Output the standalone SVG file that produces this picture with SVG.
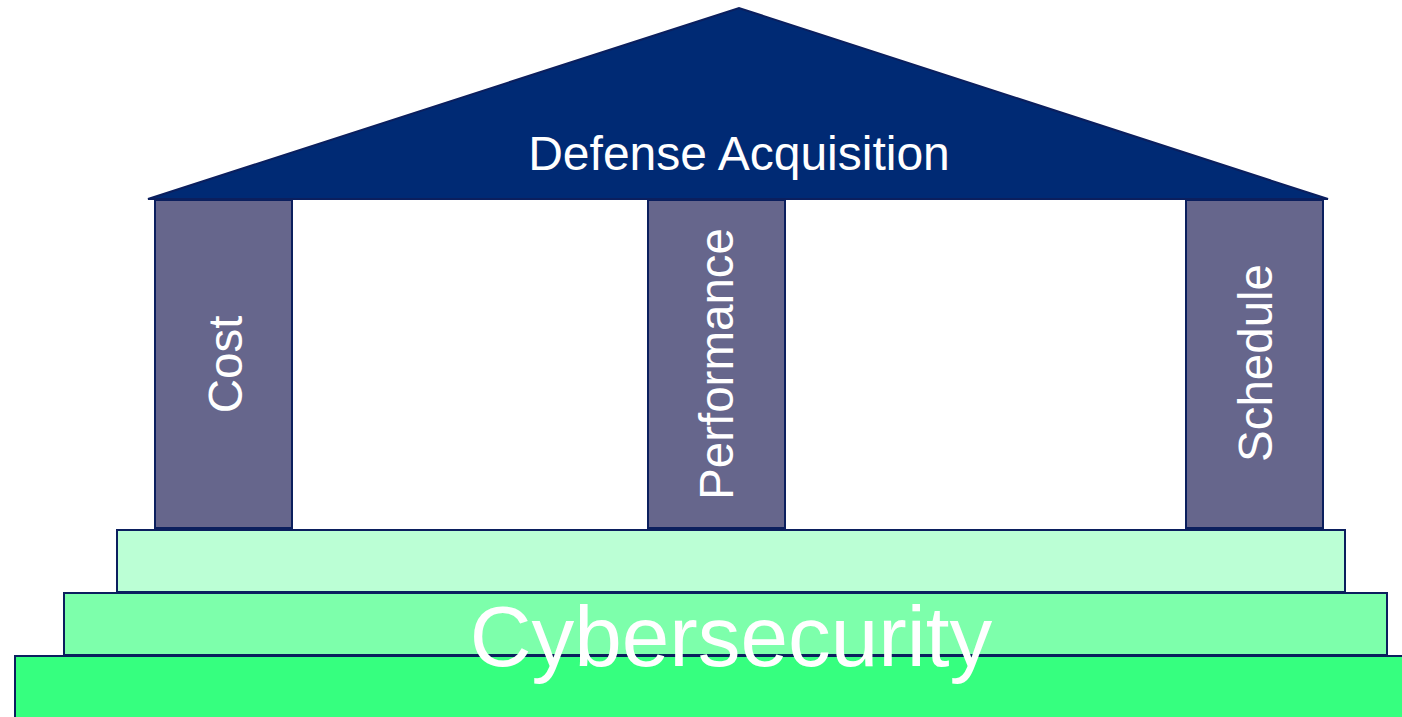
<svg xmlns="http://www.w3.org/2000/svg" width="1402" height="717" viewBox="0 0 1402 717">
  <style>
    .edge { stroke: #0b1f5e; stroke-width: 2; }
    .pillar { fill: #66668c; }
    .label { fill: #ffffff; font-family: "Liberation Sans", Arial, sans-serif; text-anchor: middle; }
    .col { font-size: 47.5px; }
  </style>
  <rect width="1402" height="717" fill="#ffffff"/>

  <!-- roof -->
  <g id="roof">
    <polygon points="148,199 739,8 1328,199" fill="#002a74" class="edge" stroke-width="1.5" stroke-linejoin="miter"/>
    <text class="label" x="739" y="170" font-size="48">Defense Acquisition</text>
  </g>

  <!-- pillars -->
  <g id="pillar-cost">
    <rect class="pillar edge" x="155" y="200" width="137" height="328"/>
    <text class="label col" transform="translate(242,364.5) rotate(-90)">Cost</text>
  </g>
  <g id="pillar-performance">
    <rect class="pillar edge" x="648" y="200" width="137" height="328"/>
    <text class="label col" transform="translate(733,364) rotate(-90)">Performance</text>
  </g>
  <g id="pillar-schedule">
    <rect class="pillar edge" x="1186" y="200" width="137" height="328"/>
    <text class="label col" transform="translate(1272,363) rotate(-90)">Schedule</text>
  </g>

  <!-- foundation steps -->
  <g id="step-top">
    <rect class="edge" x="117" y="530" width="1228" height="62" fill="#bbffd5"/>
  </g>
  <g id="step-middle">
    <rect class="edge" x="64" y="593" width="1323" height="62" fill="#7dffab"/>
  </g>
  <g id="step-bottom">
    <rect class="edge" x="15" y="656" width="1400" height="70" fill="#36ff7f"/>
  </g>
  <g id="foundation-label">
    <text class="label" x="731" y="666" font-size="85.5">Cybersecurity</text>
  </g>

  <g id="connectors"/>
</svg>
